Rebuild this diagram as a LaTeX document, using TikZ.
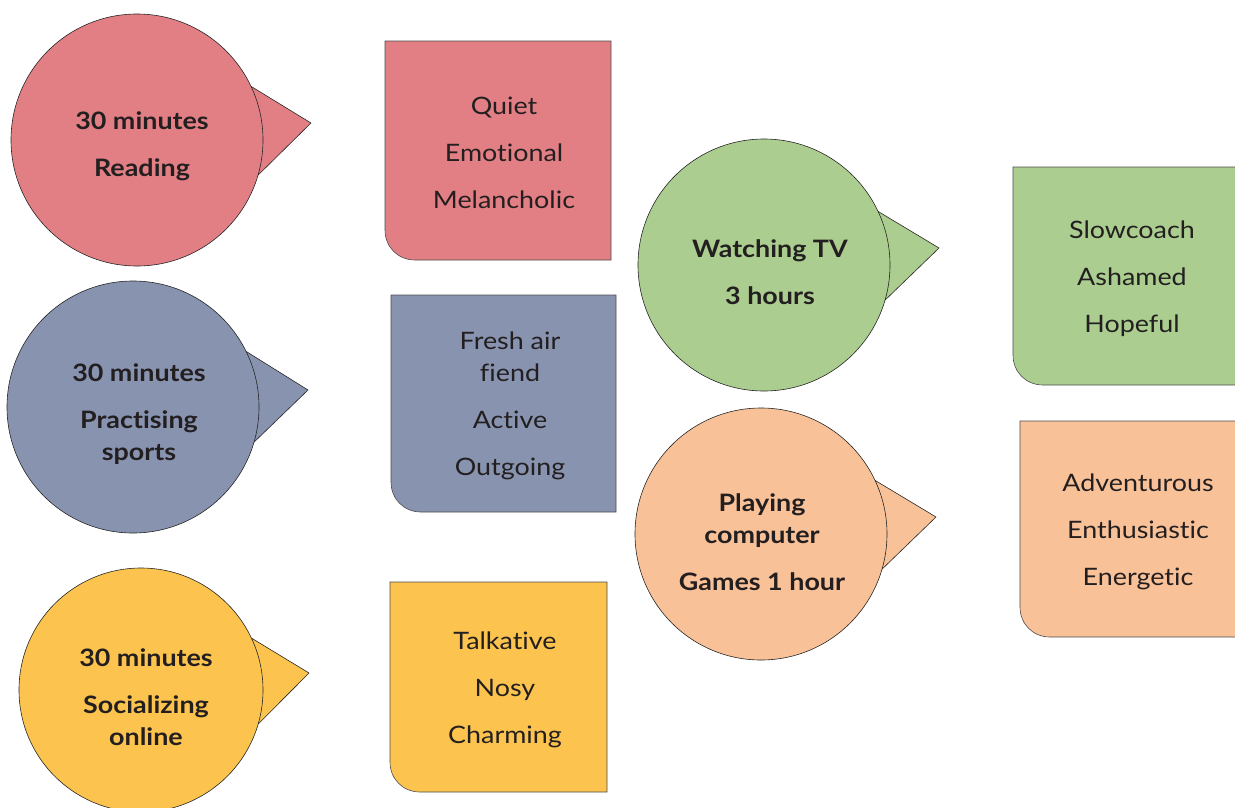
\documentclass[tikz,border=0pt]{standalone}
\usepackage{fontspec}
\setmainfont[FakeStretch=1.12, RawFeature={-liga;-dlig}]{Lato}
\usetikzlibrary{backgrounds}
\definecolor{cred}{HTML}{E27F84}
\definecolor{cblue}{HTML}{8893B0}
\definecolor{cyel}{HTML}{FCC44E}
\definecolor{cgreen}{HTML}{ABCD8F}
\definecolor{corange}{HTML}{F9C198}
\definecolor{ink}{HTML}{231F20}
\newcommand\tagbox[5]{%
  \filldraw[boxline, fill=#5] (#1,#2) -- (#3,#2) -- (#3,#4) -- ({#1+30},#4)
    .. controls ({#1+13},#4) and (#1,{#4-13}) .. (#1,{#4-30}) -- cycle;}
\begin{document}
\begin{tikzpicture}[x=1pt,y=-1pt,
  bubble/.style={circle, draw=black!85, line width=0.6pt, inner sep=0pt, minimum size=#1},
  pointer/.style={draw=black!85, line width=0.6pt, line join=miter},
  boxline/.style={draw=black!70, line width=0.6pt},
  ctext/.style={align=center, text=ink, font=\fontsize{24}{32}\selectfont\bfseries},
  btext/.style={align=center, text=ink, font=\fontsize{24}{32}\selectfont}]
\useasboundingbox (0,0) rectangle (1235,807);
\clip (0,0) rectangle (1235,807);

% ---------- bubbles ----------
\node[bubble=252pt, fill=cred]    (c1) at (137,140) {};
\node[bubble=252pt, fill=cblue]   (c2) at (133,407) {};
\node[bubble=244pt, fill=cyel]    (c3) at (141,690) {};
\node[bubble=252pt, fill=cgreen]  (c4) at (764,265) {};
\node[bubble=252pt, fill=corange] (c5) at (761,534) {};

\coordinate (p1) at (311,123);
\coordinate (p2) at (308,390);
\coordinate (p3) at (309,673);
\coordinate (p4) at (939,248);
\coordinate (p5) at (936,517);

\begin{scope}[on background layer]
  \filldraw[pointer, fill=cred]    (c1.25) -- (p1) -- (c1.-16) -- cycle;
  \filldraw[pointer, fill=cblue]   (c2.26) -- (p2) -- (c2.-16) -- cycle;
  \filldraw[pointer, fill=cyel]    (c3.25) -- (p3) -- (c3.-16) -- cycle;
  \filldraw[pointer, fill=cgreen]  (c4.25) -- (p4) -- (c4.-16) -- cycle;
  \filldraw[pointer, fill=corange] (c5.25) -- (p5) -- (c5.-16) -- cycle;
\end{scope}

\node[ctext] (t1) at (142,146) {30 minutes\\[15pt]Reading};
\node[ctext] (t2) at (139,414) {30 minutes\\[15pt]Practising\\sports};
\node[ctext] (t3) at (146,697) {30 minutes\\[15pt]Socializing\\online};
\node[ctext] (t4) at (770,272) {Watching TV\\[15pt]3 hours};
\node[ctext] (t5) at (762,542) {Playing\\computer\\[15pt]Games 1 hour};

% ---------- boxes ----------
\tagbox{385}{41}{611}{260}{cred}
\tagbox{391}{295}{616}{512}{cblue}
\tagbox{390}{582}{607}{792}{cyel}
\tagbox{1013}{167}{1245}{385}{cgreen}
\tagbox{1020}{421}{1245}{637}{corange}

\node[btext] (b1) at (504,153) {Quiet\\[15pt]Emotional\\[15pt]Melancholic};
\node[btext] (b2) at (510,406) {Fresh air\\fiend\\[15pt]Active\\[15pt]Outgoing};
\node[btext] (b3) at (505,690) {Talkative\\[15pt]Nosy\\[15pt]Charming};
\node[btext] (b4) at (1132,279) {Slowcoach\\[15pt]Ashamed\\[15pt]Hopeful};
\node[btext] (b5) at (1138,532) {Adventurous\\[15pt]Enthusiastic\\[15pt]Energetic};
\end{tikzpicture}
\end{document}
